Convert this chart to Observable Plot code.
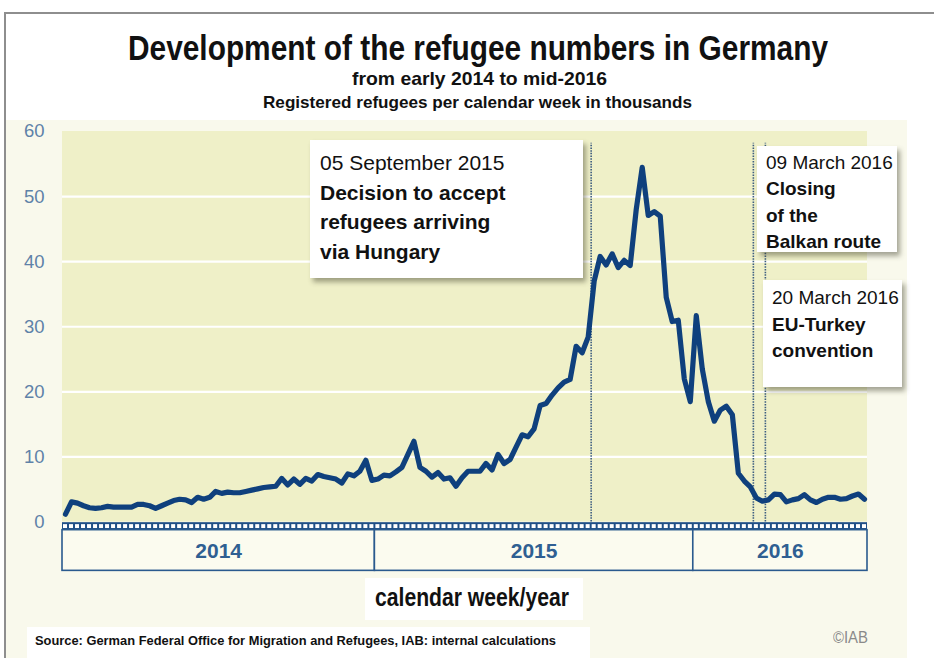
<!DOCTYPE html>
<html>
<head>
<meta charset="utf-8">
<script src="https://cdn.jsdelivr.net/npm/d3@7"></script>
<script src="https://cdn.jsdelivr.net/npm/@observablehq/plot@0.6"></script>
<style>
  html, body { margin: 0; padding: 0; background: #ffffff; }
  body { width: 934px; height: 658px; position: relative; overflow: hidden;
         font-family: "Liberation Sans", Arial, Helvetica, sans-serif; }
  .abs { position: absolute; white-space: nowrap; }
  #frame { position: absolute; left: 4px; top: 12px; right: -4px; bottom: -4px;
           border-top: 2px solid #8e8e8e; border-left: 2px solid #8e8e8e; }
  #cream { position: absolute; left: 6px; top: 120px; width: 901px; height: 538px; background: #f9f9ec; }
  .t { font-weight: bold; color: #111; }
  .box { position: absolute; background: #ffffff; box-shadow: 3px 4px 5px rgba(60,60,40,0.45); color: #111; }
  .box div { white-space: nowrap; }
  #chart { position: absolute; left: 0; top: 120px; }
</style>
</head>
<body>
<div id="frame"></div>
<div id="cream"></div>

<div id="title" class="abs t" style="font-size:35px; line-height:35px; top:30px;">Development of the refugee numbers in Germany</div>
<div id="sub1" class="abs t" style="font-size:19px; line-height:19px; top:69px;">from early 2014 to mid-2016</div>
<div id="sub2" class="abs t" style="font-size:17px; line-height:17px; top:94px;">Registered refugees per calendar week in thousands</div>

<div id="chart"></div>

<div class="box" style="left:310px; top:140px; width:273px; height:138px; font-size:21px; line-height:29.5px;">
  <div style="padding:8px 0 0 10px;">
    <div id="ev1date"></div>
    <div id="ev1text" style="font-weight:bold;"></div>
  </div>
</div>
<div class="box" style="left:757px; top:146px; width:140px; height:106px; font-size:19px; line-height:26.3px;">
  <div style="padding:4px 0 0 9px;">
    <div id="ev2date"></div>
    <div id="ev2text" style="font-weight:bold;"></div>
  </div>
</div>
<div class="box" style="left:763px; top:280px; width:139px; height:107px; font-size:19px; line-height:26.5px;">
  <div style="padding:5px 0 0 9px;">
    <div id="ev3date"></div>
    <div id="ev3text" style="font-weight:bold;"></div>
  </div>
</div>

<div class="abs" style="left:365px; top:578px; width:218px; height:42px; background:#ffffff;"></div>
<div id="xlabel" class="abs t" style="font-size:26px; line-height:26px; top:584px;">calendar week/year</div>

<div class="abs" style="left:27px; top:627px; width:563px; height:31px; background:#ffffff;"></div>
<div id="source" class="abs t" style="font-size:12px; line-height:12px; top:635px;">Source: German Federal Office for Migration and Refugees, IAB: internal calculations</div>
<div id="copy" class="abs" style="font-size:16px; line-height:16px; top:630px; color:#8a8a8a;">©IAB</div>

<script>
// ---- data ----
const years = ["2014", "2015", "2016"];
const weeksPerYear = [52, 53, 29];

// registered refugees per calendar week (thousands), week 1/2014 .. week 29/2016
const weeklyRefugees = [
  1.2, 3.1, 2.9, 2.5, 2.2, 2.1, 2.2, 2.4, 2.3, 2.3,
  2.3, 2.3, 2.7, 2.7, 2.5, 2.1, 2.5, 2.9, 3.3, 3.5,
  3.4, 3.0, 3.8, 3.5, 3.8, 4.7, 4.4, 4.6, 4.5, 4.5,
  4.7, 4.9, 5.1, 5.3, 5.4, 5.5, 6.7, 5.7, 6.6, 5.8,
  6.7, 6.3, 7.3, 7.0, 6.8, 6.6, 6.0, 7.4, 7.1, 7.8,
  9.5, 6.4, 6.6, 7.2, 7.1, 7.7, 8.4, 10.4, 12.4, 8.4,
  7.8, 6.9, 7.6, 6.6, 6.8, 5.5, 6.8, 7.8, 7.8, 7.8,
  9.0, 8.0, 10.4, 9.0, 9.6, 11.5, 13.4, 13.1, 14.3, 17.9,
  18.2, 19.5, 20.6, 21.5, 21.9, 27.0, 26.0, 28.4, 37.0, 40.8,
  39.5, 41.2, 39.1, 40.2, 39.4, 48.0, 54.5, 47.1, 47.7, 47.0,
  34.5, 30.8, 31.0, 22.0, 18.5, 31.7, 23.5, 18.5, 15.5, 17.2,
  17.8, 16.5, 7.5, 6.3, 5.4, 3.7, 3.2, 3.4, 4.3, 4.2,
  3.1, 3.4, 3.6, 4.2, 3.4, 3.0, 3.5, 3.8, 3.8, 3.5,
  3.6, 4.0, 4.3, 3.5
];

const yTicks = [0, 10, 20, 30, 40, 50, 60];

// events (position in week index counted from week 1/2014)
const eventWeeks = [87.5, 114.5, 116.5];
const eventDates = ["05 September 2015", "09 March 2016", "20 March 2016"];
const eventTexts = [
  ["Decision to accept", "refugees arriving", "via Hungary"],
  ["Closing", "of the", "Balkan route"],
  ["EU-Turkey", "convention"]
];

// ---- derived tables ----
const series = weeklyRefugees.map((v, i) => ({week: i, value: v}));
let acc = -0.5;
const yearRows = years.map((y, k) => {
  const r = {year: y, x1: acc, x2: acc + weeksPerYear[k]};
  acc += weeksPerYear[k];
  return r;
});
const xMin = yearRows[0].x1, xMax = yearRows[yearRows.length - 1].x2;
const weekCells = d3.range(weeksPerYear.reduce((a, b) => a + b, 0)).map(i => ({x1: i - 0.5, x2: i + 0.5}));
const yMax = d3.max(yTicks);
const gridTicks = yTicks.filter(t => t > 0 && t < yMax);

// ---- chart ----
const navy = "#0f407d";
const chart = Plot.plot({
  width: 934,
  height: 461,
  marginLeft: 62,
  marginRight: 67,
  marginTop: 11,
  marginBottom: 10,
  style: {background: "transparent", fontFamily: "'Liberation Sans', Arial, sans-serif", overflow: "visible"},
  x: {domain: [xMin, xMax], axis: null},
  y: {domain: [-7.6, yMax], axis: null},
  marks: [
    Plot.rect([0], {x1: xMin, x2: xMax, y1: 0, y2: yMax, fill: "#eff0c8"}),
    Plot.ruleY(gridTicks, {x1: xMin, x2: xMax, stroke: "#ffffff", strokeWidth: 2.2}),
    Plot.ruleX(eventWeeks, {y1: 0, y2: yMax - 1.8, stroke: "#3d5d80", strokeWidth: 1.6, strokeDasharray: "1.5,1.2"}),
    Plot.line(series, {x: "week", y: "value", stroke: navy, strokeWidth: 5.2, strokeLinejoin: "round", strokeLinecap: "round"}),
    // week tick strip
    Plot.rect([0], {x1: xMin, x2: xMax, y1: -0.1, y2: -1.25, fill: "#1f4f86"}),
    Plot.rect(weekCells, {x1: "x1", x2: "x2", y1: -0.4, y2: -1.0, fill: "#ffffff", insetLeft: 1, insetRight: 1}),
    // year boxes
    Plot.rect(yearRows, {x1: "x1", x2: "x2", y1: -1.25, y2: -7.5, fill: "#fbfbef", stroke: "#2a5a8e", strokeWidth: 1.6}),
    Plot.text(yearRows, {x: d => (d.x1 + d.x2) / 2, y: -4.5, text: "year", fontSize: 21, fontWeight: "bold", fill: "#2f5f92"}),
    Plot.axisY({ticks: yTicks, tickSize: 0, tickPadding: 18, fontSize: 18.5, fill: "#5f82a8", label: null})
  ]
});
document.getElementById("chart").appendChild(chart);

// ---- annotation text ----
[1, 2, 3].forEach(k => {
  document.getElementById("ev" + k + "date").textContent = eventDates[k - 1];
  document.getElementById("ev" + k + "text").innerHTML = eventTexts[k - 1].map(s => "<div>" + s + "</div>").join("");
});

// ---- fit condensed text to widths ----
function fit(id, x1, x2) {
  const el = document.getElementById(id);
  const w = el.getBoundingClientRect().width;
  el.style.transformOrigin = "0 0";
  el.style.transform = "scaleX(" + ((x2 - x1) / w) + ")";
  el.style.left = x1 + "px";
}
fit("title", 128, 828);
fit("sub1", 352, 607);
fit("sub2", 263, 692);
fit("xlabel", 375, 569);
fit("source", 35, 556);
fit("copy", 833, 868);
</script>
</body>
</html>
